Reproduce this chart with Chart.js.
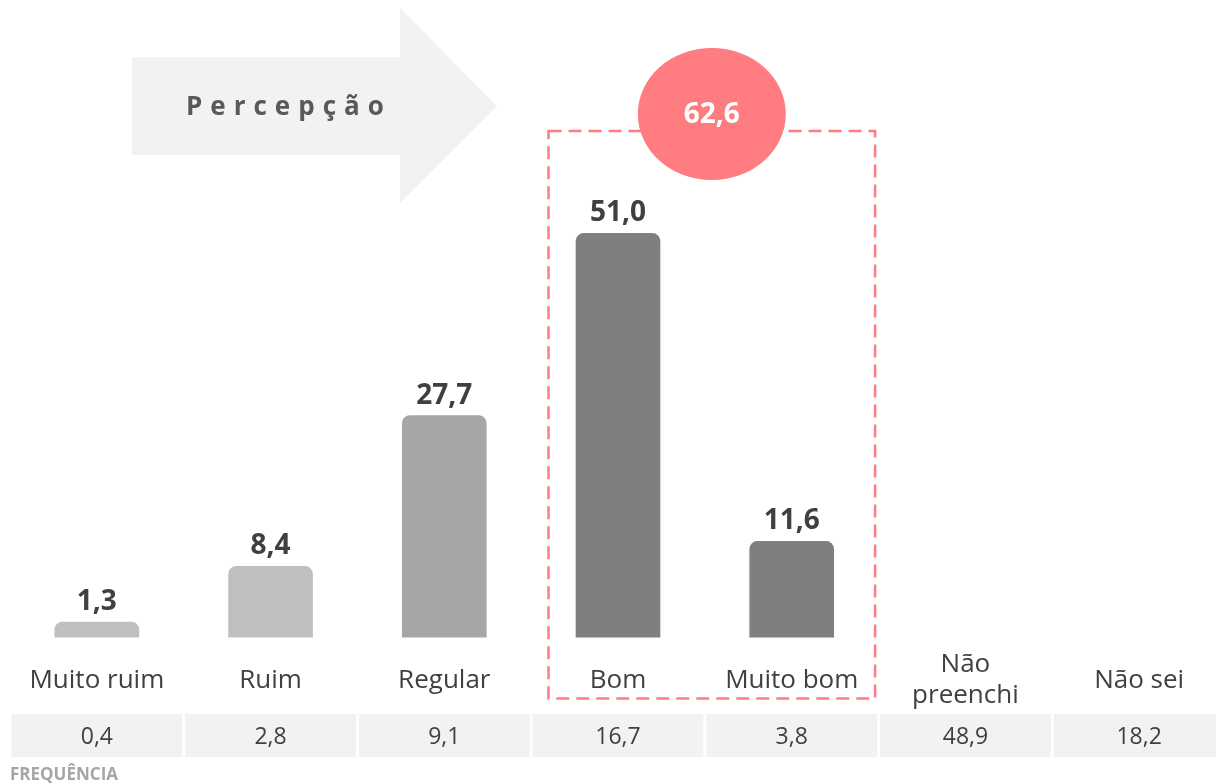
<!DOCTYPE html>
<html>
<head>
<meta charset="utf-8">
<script src="https://cdn.jsdelivr.net/npm/chart.js@4.4.0/dist/chart.umd.min.js"></script>
<style>
html, body { margin: 0; padding: 0; background: #fff; overflow: hidden; }
canvas { display: block; }
</style>
</head>
<body>
<canvas id="percepcaoChart" width="1226" height="784"></canvas>
<script>
var categorias = ['Muito ruim', 'Ruim', 'Regular', 'Bom', 'Muito bom', ['Não', 'preenchi'], 'Não sei'];
var percentuais = [1.3, 8.4, 27.7, 51.0, 11.6, null, null];
var frequencias = [0.4, 2.8, 9.1, 16.7, 3.8, 48.9, 18.2];
var coresBarras = ['#BFBFBF', '#BFBFBF', '#A6A6A6', '#7F7F7F', '#7F7F7F', '#7F7F7F', '#7F7F7F'];
var destaque = [3, 4]; // Bom + Muito bom

var FONTE = '"Open Sans", "DejaVu Sans", sans-serif';

function fmt(v) {
    return v.toFixed(1).replace('.', ',');
}

var extras = {
    id: 'extras',
    beforeDraw: function(chart) {
        var ctx = chart.ctx;
        // seta "Percepção"
        ctx.save();
        ctx.fillStyle = '#F2F2F2';
        ctx.beginPath();
        ctx.moveTo(132, 57);
        ctx.lineTo(400, 57);
        ctx.lineTo(400, 8);
        ctx.lineTo(497, 106);
        ctx.lineTo(400, 203);
        ctx.lineTo(400, 155);
        ctx.lineTo(132, 155);
        ctx.closePath();
        ctx.fill();
        ctx.fillStyle = '#595959';
        ctx.font = 'bold 26px ' + FONTE;
        ctx.textBaseline = 'middle';
        ctx.textAlign = 'left';
        var x = 186;
        'Percepção'.split('').forEach(function(c) {
            ctx.fillText(c, x, 108);
            x += ctx.measureText(c).width + 8;
        });
        ctx.restore();
    },
    afterDatasetsDraw: function(chart) {
        var ctx = chart.ctx;
        var xs = chart.scales.x;
        var area = chart.chartArea;
        var meta = chart.getDatasetMeta(0);
        var passo = xs.getPixelForValue(1) - xs.getPixelForValue(0);

        ctx.save();
        // rótulos de valor
        ctx.fillStyle = '#404040';
        ctx.font = 'bold 28px ' + FONTE;
        ctx.textAlign = 'center';
        ctx.textBaseline = 'bottom';
        meta.data.forEach(function(bar, i) {
            if (percentuais[i] == null) return;
            ctx.fillText(fmt(percentuais[i]), bar.x, bar.y - 6);
        });

        // caixa tracejada em volta de Bom e Muito bom
        var esq = xs.getPixelForValue(destaque[0]) - passo * 0.4;
        var dir = xs.getPixelForValue(destaque[1]) + passo * 0.48;
        var topo = chart.scales.y.getPixelForValue(60) - 32;
        var base = area.bottom + 61;
        ctx.strokeStyle = '#FF7C80';
        ctx.lineWidth = 2.5;
        ctx.setLineDash([13, 7]);
        ctx.strokeRect(esq, topo, dir - esq, base - topo);
        ctx.setLineDash([]);

        // círculo com o total
        var total = destaque.reduce(function(s, i) { return s + percentuais[i]; }, 0);
        var cx = (esq + dir) / 2;
        var cy = topo - 17;
        ctx.fillStyle = '#FF7C80';
        ctx.beginPath();
        ctx.ellipse(cx, cy, 74, 66, 0, 0, Math.PI * 2);
        ctx.fill();
        ctx.fillStyle = '#FFFFFF';
        ctx.font = 'bold 28px ' + FONTE;
        ctx.textBaseline = 'middle';
        ctx.fillText(fmt(total), cx, cy + 1);

        // linha de frequências
        ctx.font = '23px ' + FONTE;
        frequencias.forEach(function(v, i) {
            var c = xs.getPixelForValue(i);
            ctx.fillStyle = '#F2F2F2';
            ctx.fillRect(c - passo / 2 + 1.5, 714, passo - 3, 43);
            ctx.fillStyle = '#404040';
            ctx.fillText(fmt(v), c, 737);
        });

        ctx.fillStyle = '#A6A6A6';
        ctx.font = 'bold 17px ' + FONTE;
        ctx.textAlign = 'left';
        ctx.fillText('FREQUÊNCIA', 10, 775);
        ctx.restore();
    }
};

new Chart(document.getElementById('percepcaoChart').getContext('2d'), {
    type: 'bar',
    data: {
        labels: categorias,
        datasets: [{
            label: 'Percepção',
            data: percentuais,
            base: -0.7,
            backgroundColor: coresBarras,
            borderRadius: { topLeft: 8, topRight: 8, bottomLeft: 0, bottomRight: 0 },
            borderSkipped: false,
            barThickness: 84
        }]
    },
    options: {
        responsive: false,
        animation: false,
        devicePixelRatio: 1,
        layout: { padding: { top: 163, left: 10, right: 0, bottom: 30 } },
        plugins: {
            legend: { display: false },
            tooltip: { enabled: false }
        },
        scales: {
            x: {
                grid: { display: false, drawTicks: false },
                border: { display: false },
                ticks: {
                    color: '#404040',
                    font: { family: FONTE, size: 26 },
                    padding: 27,
                    maxRotation: 0,
                    autoSkip: false,
                    crossAlign: 'center'
                }
            },
            y: {
                display: false,
                min: -0.7,
                max: 60
            }
        }
    },
    plugins: [extras]
});
</script>
</body>
</html>
